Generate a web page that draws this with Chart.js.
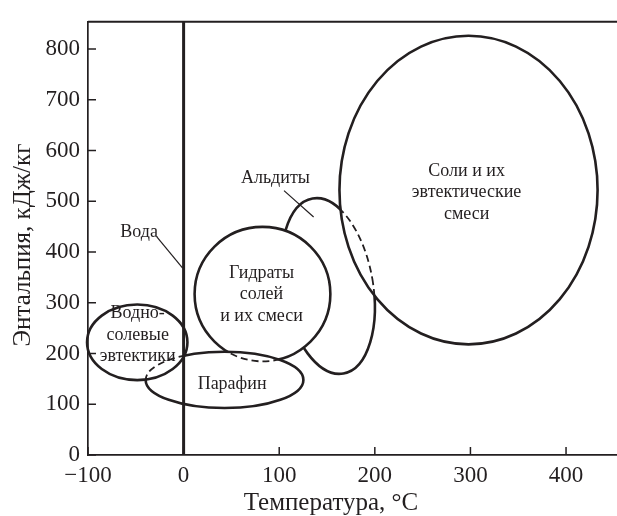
<!DOCTYPE html>
<html><head><meta charset="utf-8">
<script src="https://cdn.jsdelivr.net/npm/chart.js@4/dist/chart.umd.min.js"></script>
<style>html,body{margin:0;padding:0;background:#fff}canvas{display:block}</style>
</head><body>
<canvas id="c" width="617" height="516"></canvas>
<script>
// ---- data (temperature °C, enthalpy kJ/kg) ----
const regionNames = ['Водно-солевые эвтектики', 'Парафин', 'Гидраты солей и их смеси', 'Альдиты', 'Соли и их эвтектические смеси'];
const regionLabelLines = [['Водно-', 'солевые', 'эвтектики'], ['Парафин'], ['Гидраты', 'солей', 'и их смеси'], ['Альдиты'], ['Соли и их', 'эвтектические', 'смеси']];
const centerTemp = [-48.5, 42.8, 82.5, 151, 298];
const centerEnthalpy = [222, 148, 317, 333, 522];
const halfTempRange = [52.5, 82.5, 71, 47, 135];
const halfEnthalpyRange = [74.5, 55.5, 132.5, 175, 304];
const tiltDeg = [0, 0, 0, -10, 0];
const labelTemp = [-48, 50.7, 81.5, 96, 296];
const labelEnthalpy = [236, 140, 316, 545, 517];
const waterTemp = [0, 0];
const waterEnthalpy = [0, 853.6];
const waterLabel = 'Вода';
const waterLabelTemp = -46.5, waterLabelEnthalpy = 439;
const leaderTemp = [[-28, -1], [105, 136]];
const leaderEnthalpy = [[430, 368], [521, 469]];
const xTicks = [-100, 0, 100, 200, 300, 400];
const yTicks = [0, 100, 200, 300, 400, 500, 600, 700, 800];
const xTitle = 'Температура, °C';
const yTitle = 'Энтальпия, кДж/кг';
// overlap styling: [region, other region, mode]
const overlapRules = [[1, 0, 'dash'], [2, 1, 'dash'], [3, 2, 'hide'], [3, 4, 'dash']];

const INK = '#231f20';
const SERIF = "'Liberation Serif', 'DejaVu Serif', serif";

const regionDatasets = regionNames.map((n, i) => ({
  type: 'scatter', label: n,
  data: [{x: centerTemp[i], y: centerEnthalpy[i]}],
  pointRadius: 0
}));

const regionPlugin = {
  id: 'regions',
  afterDatasetsDraw(chart) {
    const {ctx, scales: {x, y}, width, height} = chart;
    const geo = i => {
      const cx = x.getPixelForValue(centerTemp[i]);
      const cy = y.getPixelForValue(centerEnthalpy[i]);
      const rx = Math.abs(x.getPixelForValue(centerTemp[i] + halfTempRange[i]) - cx);
      const ry = Math.abs(y.getPixelForValue(centerEnthalpy[i] + halfEnthalpyRange[i]) - cy);
      return {cx, cy, rx, ry, rot: tiltDeg[i] * Math.PI / 180};
    };
    const shape = i => { const g = geo(i); const p = new Path2D(); p.ellipse(g.cx, g.cy, g.rx, g.ry, g.rot, 0, 2 * Math.PI); return p; };
    const outside = i => { const g = geo(i); const p = new Path2D(); p.rect(0, 0, width, height); p.ellipse(g.cx, g.cy, g.rx, g.ry, g.rot, 0, 2 * Math.PI); return p; };

    ctx.save();
    ctx.strokeStyle = INK;
    ctx.lineWidth = 2.6;
    regionNames.forEach((n, i) => {
      const rules = overlapRules.filter(r => r[0] === i);
      ctx.save();
      rules.forEach(r => ctx.clip(outside(r[1]), 'evenodd'));
      ctx.setLineDash([]);
      ctx.stroke(shape(i));
      ctx.restore();
      rules.filter(r => r[2] === 'dash').forEach(r => {
        ctx.save();
        rules.filter(h => h[2] === 'hide').forEach(h => ctx.clip(outside(h[1]), 'evenodd'));
        ctx.clip(shape(r[1]));
        ctx.setLineDash([7, 4]);
        ctx.lineWidth = 1.8;
        ctx.stroke(shape(i));
        ctx.restore();
      });
    });
    ctx.restore();

    ctx.save();
    ctx.strokeStyle = INK; ctx.lineWidth = 1.2;
    leaderTemp.forEach((lt, k) => {
      ctx.beginPath();
      ctx.moveTo(x.getPixelForValue(lt[0]), y.getPixelForValue(leaderEnthalpy[k][0]));
      ctx.lineTo(x.getPixelForValue(lt[1]), y.getPixelForValue(leaderEnthalpy[k][1]));
      ctx.stroke();
    });
    ctx.restore();

    ctx.save();
    ctx.fillStyle = INK;
    ctx.font = '18px ' + SERIF;
    ctx.textAlign = 'center';
    ctx.textBaseline = 'middle';
    const lh = 21.5;
    regionLabelLines.forEach((lines, i) => {
      const px = x.getPixelForValue(labelTemp[i]);
      const py = y.getPixelForValue(labelEnthalpy[i]);
      lines.forEach((t, k) => ctx.fillText(t, px, py + (k - (lines.length - 1) / 2) * lh));
    });
    ctx.fillText(waterLabel, x.getPixelForValue(waterLabelTemp), y.getPixelForValue(waterLabelEnthalpy));
    ctx.restore();
  },
  afterDraw(chart) {
    const {ctx, chartArea, scales: {x, y}} = chart;
    ctx.save();
    ctx.strokeStyle = INK;
    ctx.lineWidth = 2;
    ctx.beginPath(); ctx.moveTo(chartArea.left, chartArea.top); ctx.lineTo(chartArea.right, chartArea.top); ctx.stroke();
    ctx.lineWidth = 1.5;
    xTicks.forEach(v => { const p = x.getPixelForValue(v); ctx.beginPath(); ctx.moveTo(p, chartArea.bottom); ctx.lineTo(p, chartArea.bottom - 8); ctx.stroke(); });
    yTicks.forEach(v => { const p = y.getPixelForValue(v); ctx.beginPath(); ctx.moveTo(chartArea.left, p); ctx.lineTo(chartArea.left + 8, p); ctx.stroke(); });
    ctx.fillStyle = INK;
    ctx.font = '25px ' + SERIF;
    ctx.textAlign = 'center';
    ctx.textBaseline = 'alphabetic';
    ctx.fillText(xTitle, 331, 510);
    ctx.translate(30, 245);
    ctx.rotate(-Math.PI / 2);
    ctx.fillText(yTitle, 0, 0);
    ctx.restore();
  }
};

new Chart(document.getElementById('c'), {
  type: 'scatter',
  data: {
    datasets: [
      {type: 'line', label: 'Вода', data: waterTemp.map((t, i) => ({x: t, y: waterEnthalpy[i]})),
       borderColor: INK, borderWidth: 3, pointRadius: 0, fill: false},
      ...regionDatasets
    ]
  },
  options: {
    responsive: false, animation: false,
    layout: {padding: {top: 14, right: 0, left: 0, bottom: 0}},
    plugins: {legend: {display: false}, tooltip: {enabled: false}},
    scales: {
      x: {
        type: 'linear', min: -100, max: 453.3,
        afterBuildTicks: s => { s.ticks = xTicks.map(v => ({value: v})); },
        afterFit: s => { s.height = 61; },
        grid: {display: false, drawTicks: false},
        border: {display: true, color: INK, width: 1.7},
        ticks: {padding: 7, color: INK, font: {family: SERIF, size: 23}, autoSkip: false, maxRotation: 0,
                callback: v => String(v).replace('-', '\u2212')}
      },
      y: {
        type: 'linear', min: 0, max: 853.6,
        afterBuildTicks: s => { s.ticks = yTicks.map(v => ({value: v})); },
        afterFit: s => { s.width = 88; },
        grid: {display: false, drawTicks: false},
        border: {display: true, color: INK, width: 1.7},
        ticks: {padding: 8, color: INK, font: {family: SERIF, size: 23}, autoSkip: false}
      }
    }
  },
  plugins: [regionPlugin]
});
</script>
</body></html>
